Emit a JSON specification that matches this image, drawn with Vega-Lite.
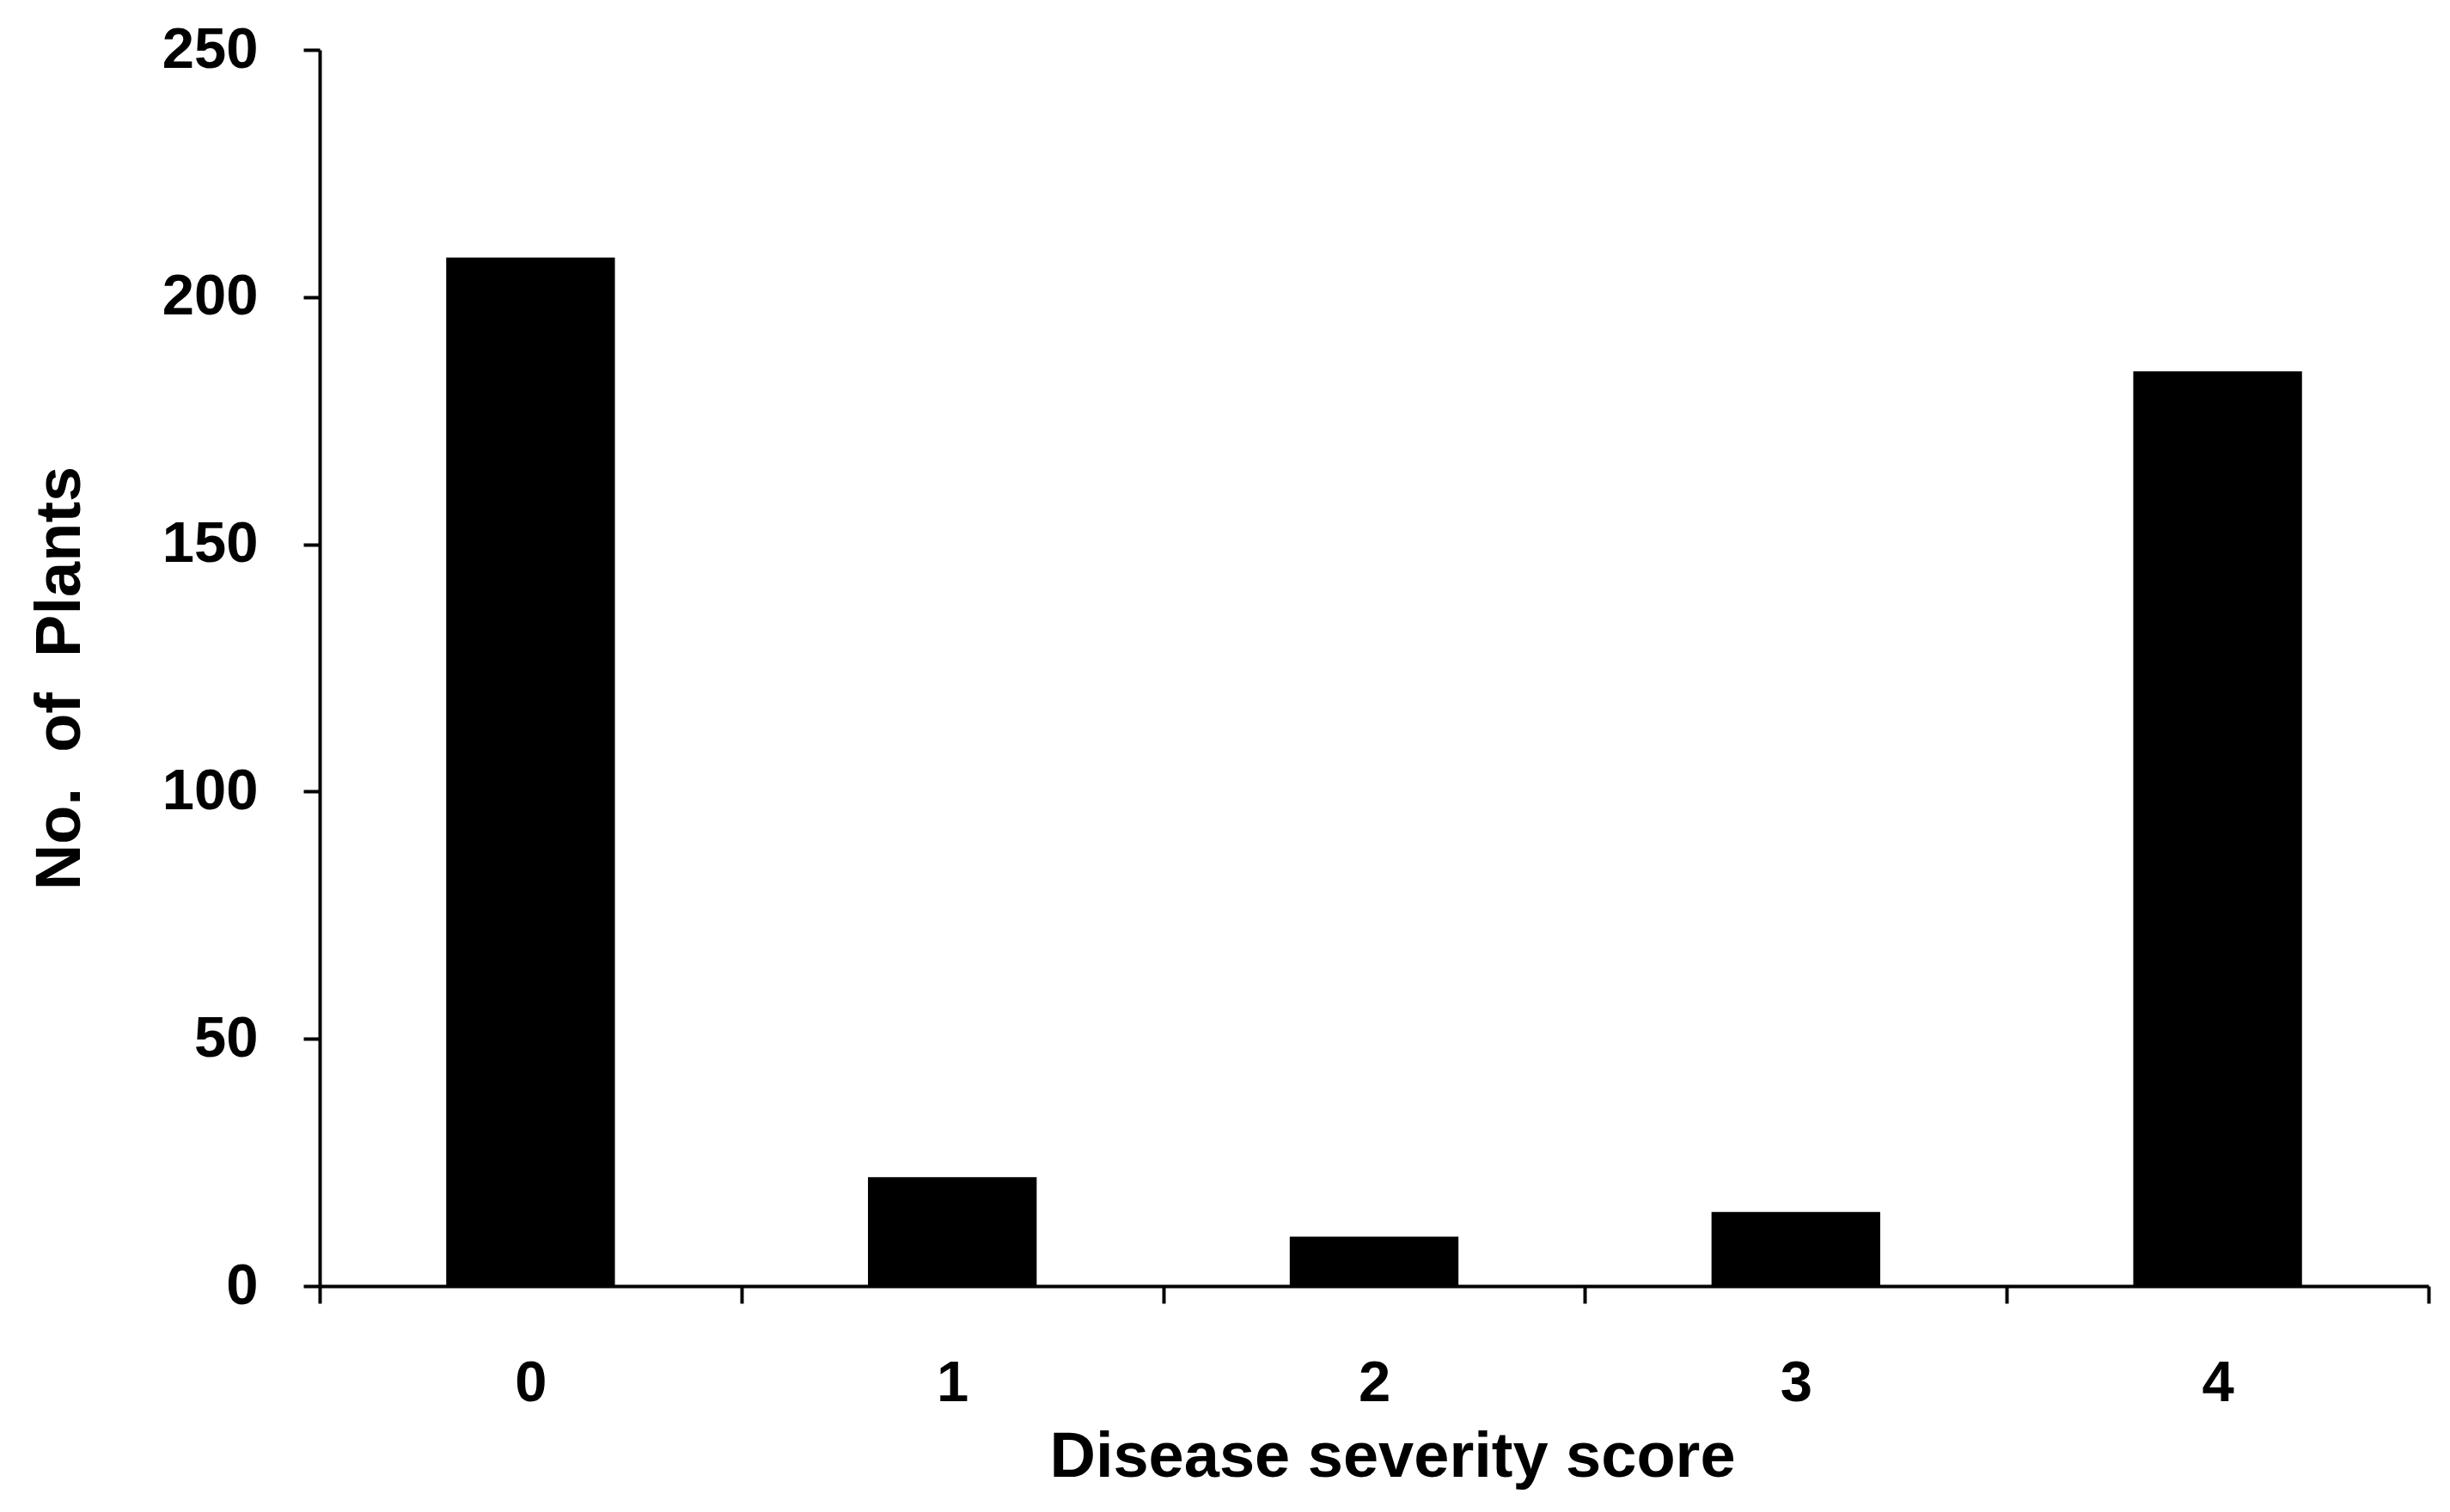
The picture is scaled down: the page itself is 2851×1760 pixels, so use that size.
{
  "$schema": "https://vega.github.io/schema/vega-lite/v6.json",
  "width": 2454,
  "height": 1439,
  "autosize": {"type": "none"},
  "padding": {"left": 372, "top": 58, "right": 25, "bottom": 263},
  "background": "white",
  "config": {"view": {"stroke": null}, "font": "Liberation Sans"},
  "data": {
    "values": [
      {"score": "0", "plants": 208},
      {"score": "1", "plants": 22},
      {"score": "2", "plants": 10},
      {"score": "3", "plants": 15},
      {"score": "4", "plants": 185}
    ]
  },
  "mark": {"type": "bar", "color": "black", "width": {"band": 0.4}},
  "encoding": {
    "x": {
      "field": "score",
      "type": "ordinal",
      "scale": {"paddingInner": 0, "paddingOuter": 0},
      "axis": {
        "title": "Disease severity score",
        "labelAngle": 0,
        "labelFont": "Liberation Sans",
        "labelFontWeight": "bold",
        "labelFontSize": 67,
        "labelColor": "black",
        "labelPadding": 60,
        "tickBand": "extent",
        "tickSize": 20,
        "tickWidth": 4,
        "tickColor": "black",
        "domainWidth": 4,
        "domainColor": "black",
        "titleFont": "Liberation Sans",
        "titleFontSize": 74,
        "titleFontWeight": "bold",
        "titleColor": "black",
        "titleX": 1248,
        "titleY": 221,
        "titleBaseline": "alphabetic",
        "titleAlign": "center"
      }
    },
    "y": {
      "field": "plants",
      "type": "quantitative",
      "scale": {"domain": [0, 250], "nice": false},
      "axis": {
        "title": "No. \u00a0of \u00a0Plants",
        "values": [0, 50, 100, 150, 200, 250],
        "grid": false,
        "labelFont": "Liberation Sans",
        "labelFontWeight": "bold",
        "labelFontSize": 67,
        "labelColor": "black",
        "labelPadding": 53,
        "tickSize": 19,
        "tickWidth": 4,
        "tickColor": "black",
        "domainWidth": 4,
        "domainColor": "black",
        "titleFont": "Liberation Sans",
        "titleFontSize": 74,
        "titleFontWeight": "bold",
        "titleColor": "black",
        "titleX": -280,
        "titleY": 731,
        "titleBaseline": "alphabetic",
        "titleAlign": "center"
      }
    }
  }
}
